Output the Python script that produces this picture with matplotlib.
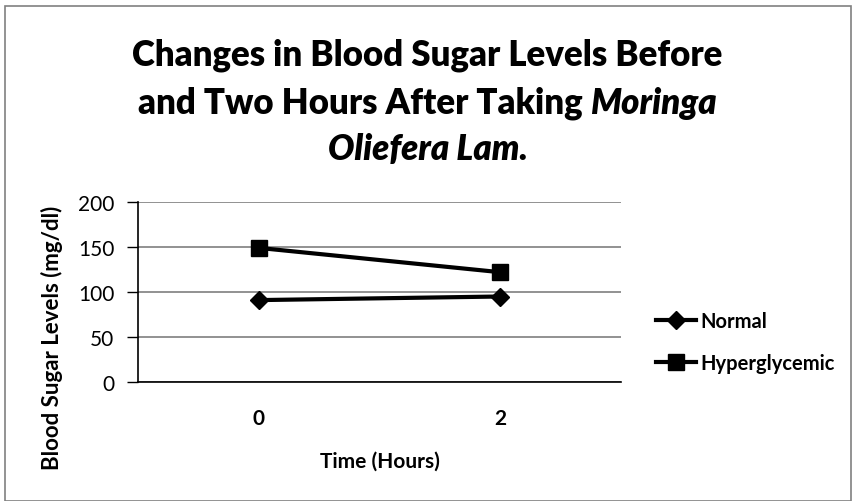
import matplotlib.pyplot as plt
from matplotlib.patches import Rectangle

# data
horas = ["0", "2"]
normal = [91, 95]
hiperglucemico = [149, 122]
y_ticks = [0, 50, 100, 150, 200]

plt.rcParams['font.family'] = ['Lato', 'DejaVu Sans']

fig = plt.figure(figsize=(8.55, 5.02), dpi=100)
ax = fig.add_axes([138/855, 1-383/502, (621-138)/855, (383-203)/502])

x = range(len(horas))
ax.plot(x, normal, color='black', lw=3, marker='D', markersize=9, label='Normal')
ax.plot(x, hiperglucemico, color='black', lw=3, marker='s', markersize=11, label='Hyperglycemic')

ax.set_xlim(-0.5, 1.5)
ax.set_ylim(0, 200)
ax.set_yticks(y_ticks)
ax.set_xticks(list(x))
ax.set_xticklabels(horas, fontweight='bold', fontsize=15)
ax.tick_params(axis='x', length=0, pad=19)
ax.tick_params(axis='y', length=8, width=1, labelsize=15, pad=9)
ax.grid(axis='y', color='#7f7f7f', lw=1.2)
ax.set_axisbelow(True)
for s in ['top', 'right']:
    ax.spines[s].set_visible(False)
ax.spines['left'].set_linewidth(1.2)
ax.spines['bottom'].set_linewidth(1.2)

ax.set_xlabel("Time (Hours)", fontweight='bold', fontsize=15, labelpad=16)
ax.set_ylabel("Blood Sugar Levels (mg/dl)", fontweight='bold', fontsize=16)
ax.yaxis.set_label_coords(-0.155, 0.25)

leg = ax.legend(loc='center left', bbox_to_anchor=(1.035, 0.22), frameon=False,
                handlelength=2.0, handletextpad=0.2, labelspacing=1.1,
                prop={'weight': 'bold', 'size': 14.5})

# title, species name in italic
tsize = 25
fig.text(0.5, 1-55/502, "Changes in Blood Sugar Levels Before", ha='center', va='center',
         fontsize=tsize, fontweight='heavy')
r = fig.canvas.get_renderer()
t1 = fig.text(0, 1-103/502, "and Two Hours After Taking ", ha='left', va='center',
              fontsize=tsize, fontweight='heavy')
t2 = fig.text(0, 1-103/502, "Moringa", ha='left', va='center',
              fontsize=tsize, fontweight='heavy', style='italic')
w1 = t1.get_window_extent(r).width / fig.bbox.width
w2 = t2.get_window_extent(r).width / fig.bbox.width
x0 = 0.5 - (w1 + w2) / 2
t1.set_x(x0)
t2.set_x(x0 + w1)
fig.text(0.5, 1-150/502, "Oliefera Lam.", ha='center', va='center',
         fontsize=tsize, fontweight='heavy', style='italic')

fig.patches.append(Rectangle((5/855, 0), 846/855, 1-7/502, transform=fig.transFigure,
                             fill=False, edgecolor='#808080', lw=1.2))

fig.savefig('out.png', dpi=100)
